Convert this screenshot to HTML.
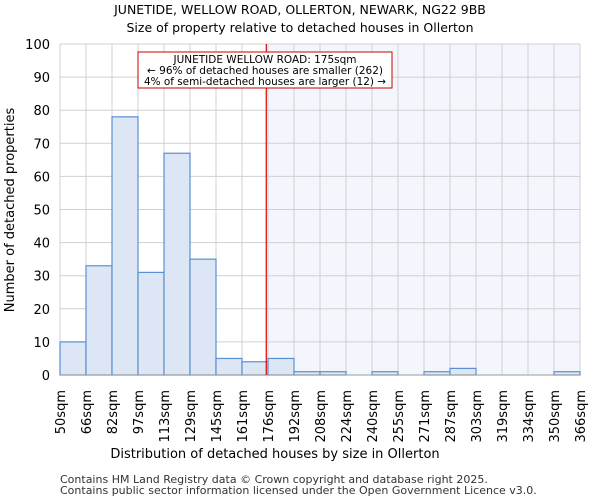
<!DOCTYPE html>
<html><head><meta charset="utf-8"><style>
body{margin:0;background:#fff;font-family:"DejaVu Sans","Liberation Sans",sans-serif}
</style></head><body>
<svg id="chart" width="600" height="500" xmlns="http://www.w3.org/2000/svg" font-family="DejaVu Sans, Liberation Sans, sans-serif">
<text x="300" y="14" text-anchor="middle" font-size="12.5">JUNETIDE, WELLOW ROAD, OLLERTON, NEWARK, NG22 9BB</text>
<text x="300" y="32" text-anchor="middle" font-size="12.5">Size of property relative to detached houses in Ollerton</text>
<g id="plot"></g>
<text x="275" y="458" text-anchor="middle" font-size="13">Distribution of detached houses by size in Ollerton</text>
<text transform="translate(14,210) rotate(-90)" text-anchor="middle" font-size="13">Number of detached properties</text>
<text x="60" y="483" font-size="11" fill="#333">Contains HM Land Registry data © Crown copyright and database right 2025.</text>
<text x="60" y="494" font-size="11" fill="#333">Contains public sector information licensed under the Open Government Licence v3.0.</text>
</svg>
<script>
const binLabels=["50sqm","66sqm","82sqm","97sqm","113sqm","129sqm","145sqm","161sqm","176sqm","192sqm","208sqm","224sqm","240sqm","255sqm","271sqm","287sqm","303sqm","319sqm","334sqm","350sqm","366sqm"];
const binEdges=[50,66,82,97,113,129,145,161,176,192,208,224,240,255,271,287,303,319,334,350,366];
const counts=[10,33,78,31,67,35,5,4,5,1,1,0,1,0,1,2,0,0,0,1];
const yTicks=[0,10,20,30,40,50,60,70,80,90,100];
const propertySize=175;
const NS="http://www.w3.org/2000/svg";
const g=document.getElementById("plot");
const L=60,R=580,T=44,B=375,nb=counts.length;
const xi=i=>L+(R-L)*i/nb;
function xv(v){for(let i=0;i<binEdges.length-1;i++){if(v<=binEdges[i+1])return xi(i)+(xi(i+1)-xi(i))*(v-binEdges[i])/(binEdges[i+1]-binEdges[i]);}return R;}
const y=v=>B-(B-T)*v/100;
function mk(t,a){const e=document.createElementNS(NS,t);for(const k in a)e.setAttribute(k,a[k]);g.appendChild(e);return e;}
const rx=xv(propertySize);
let e=mk("rect",{x:rx,y:T,width:R-rx,height:B-T,fill:"#f4f6fd"});


yTicks.forEach(v=>{
 let l=mk("line",{x1:L,x2:R,y1:y(v),y2:y(v),stroke:"#d0d0d0","stroke-width":1});
 
 
 let t=mk("text",{x:L-10,y:y(v)+5,"text-anchor":"end","font-size":13});
 t.textContent=v;
 
 
});
binLabels.forEach((s,i)=>{
 let l=mk("line",{x1:xi(i),x2:xi(i),y1:T,y2:B,stroke:"#d0d0d0","stroke-width":1});
 
 
 let t=mk("text",{transform:`translate(${xi(i)+5},390) rotate(-90)`,"text-anchor":"end","font-size":13});
 t.textContent=s;
 
 
});
counts.forEach((c,i)=>{
 if(c<=0)return;
 let r=mk("rect",{x:xi(i),y:y(c),width:xi(i+1)-xi(i),height:B-y(c),fill:"#dce6f4",stroke:"#5a8fd6","stroke-width":1.2});
 
 
});
let ax=mk("line",{x1:L,x2:R,y1:B,y2:B,stroke:"#999","stroke-width":1});


let rl=mk("line",{x1:rx,x2:rx,y1:T,y2:B,stroke:"#d00","stroke-width":1.2});


let box=mk("rect",{x:138,y:52,width:254,height:36,fill:"#fff",stroke:"#c00","stroke-width":1});


["JUNETIDE WELLOW ROAD: 175sqm","← 96% of detached houses are smaller (262)","4% of semi-detached houses are larger (12) →"].forEach((s,i)=>{
 let t=mk("text",{x:265,y:63+i*11,"text-anchor":"middle","font-size":10.5,"textLength":i==0?183:(i==1?236:242),"lengthAdjust":"spacingAndGlyphs"});
 t.textContent=s;
 
 
});
</script>
</body></html>
